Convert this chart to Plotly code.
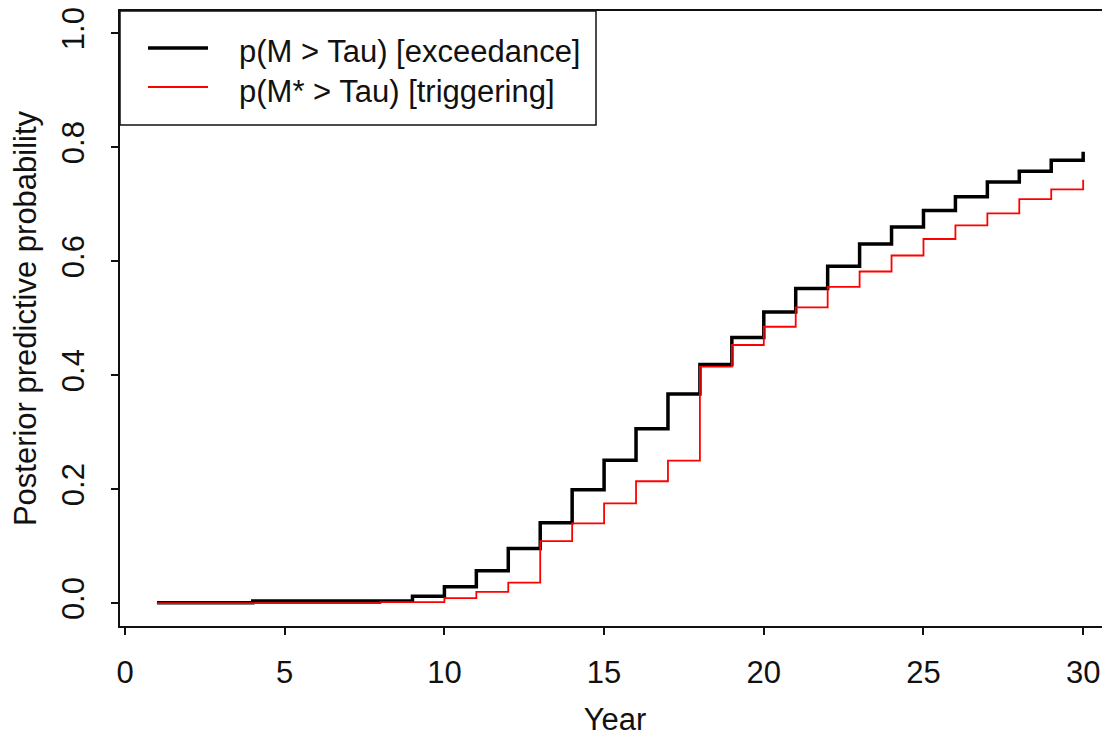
import plotly.graph_objects as go

# step values (R type="s" plot)
years = list(range(1, 31))
exceedance = [0.001, 0.001, 0.001, 0.004, 0.004, 0.004, 0.004, 0.004, 0.012, 0.029,
              0.057, 0.096, 0.141, 0.199, 0.251, 0.306, 0.367, 0.419, 0.466, 0.511,
              0.552, 0.591, 0.630, 0.660, 0.689, 0.713, 0.739, 0.758, 0.777, 0.792]
triggering = [0.0, 0.0, 0.0, 0.0, 0.0, 0.0, 0.0, 0.002, 0.002, 0.009,
              0.020, 0.036, 0.109, 0.140, 0.175, 0.214, 0.250, 0.415, 0.453, 0.485,
              0.519, 0.555, 0.582, 0.610, 0.639, 0.663, 0.684, 0.709, 0.726, 0.743]
x_ticks = [0, 5, 10, 15, 20, 25, 30]
y_ticks = [0.0, 0.2, 0.4, 0.6, 0.8, 1.0]
legend_labels = ["p(M > Tau) [exceedance]", "p(M* > Tau) [triggering]"]

FONT = "Liberation Sans, Arial, sans-serif"
INK = "#111111"
FS = 31

fig = go.Figure()
fig.add_trace(go.Scatter(x=years, y=exceedance, mode="lines", line_shape="hv",
                         line=dict(color="black", width=3.5), name=legend_labels[0]))
fig.add_trace(go.Scatter(x=years, y=triggering, mode="lines", line_shape="hv",
                         line=dict(color="#ff0000", width=1.8), name=legend_labels[1]))

# the page body adds an 8px offset, so the figure is 8px smaller than the window
OFF = 8
W, H = 1110 - OFF, 737 - OFF
# plot area in window pixels: left 120, right 1110, top 11, bottom 626
L, R, T, B = 120 - OFF, 1110 - OFF, 11 - OFF, 626 - OFF
pw, ph = R - L, B - T

# helpers take window pixel positions
def px(x):
    return (x - OFF - L) / pw

def py(y):
    return (B - (y - OFF)) / ph

# legend drawn by hand so it matches the R box
fig.add_shape(type="rect", xref="paper", yref="paper",
              x0=0, x1=px(596), y0=py(125), y1=1,
              line=dict(color=INK, width=1.5), fillcolor="white", layer="above")
for y_line, y_text, col, wdt, lab in [(48, 52, "black", 3.5, legend_labels[0]),
                                      (87, 91, "#ff0000", 1.8, legend_labels[1])]:
    fig.add_shape(type="line", xref="paper", yref="paper",
                  x0=px(148), x1=px(208), y0=py(y_line), y1=py(y_line),
                  line=dict(color=col, width=wdt), layer="above")
    fig.add_annotation(text=lab, xref="paper", yref="paper", x=px(237), y=py(y_text),
                       xanchor="left", yanchor="middle", showarrow=False,
                       font=dict(family=FONT, size=FS, color=INK))

fig.update_layout(
    template="none",
    width=W, height=H,
    margin=dict(l=L, r=W - R, t=T, b=H - B, autoexpand=False),
    plot_bgcolor="white", paper_bgcolor="white",
    showlegend=False,
    font=dict(family=FONT, size=FS, color=INK),
)
fig.update_xaxes(
    automargin=False,
    range=[-0.157, 30.84], tickvals=x_ticks, ticktext=[str(v) for v in x_ticks],
    showgrid=False, zeroline=False,
    showline=True, linecolor=INK, linewidth=1.5, mirror=True,
    ticks="outside", ticklen=7, tickwidth=1.5, tickcolor=INK,
    ticklabelstandoff=11, ticklabeloverflow="allow",
    title=dict(text="Year", standoff=24, font=dict(size=FS)),
)
fig.update_yaxes(
    automargin=False,
    range=[-0.04, 1.039], tickvals=y_ticks, ticktext=[f"{v:.1f}" for v in y_ticks],
    tickangle=-90,
    showgrid=False, zeroline=False,
    showline=True, linecolor=INK, linewidth=1.5, mirror=False,
    ticks="outside", ticklen=7, tickwidth=1.5, tickcolor=INK,
    ticklabelstandoff=15, ticklabeloverflow="allow",
    title=dict(text="Posterior predictive probability", standoff=10, font=dict(size=FS)),
)

fig.write_html("out.html")
